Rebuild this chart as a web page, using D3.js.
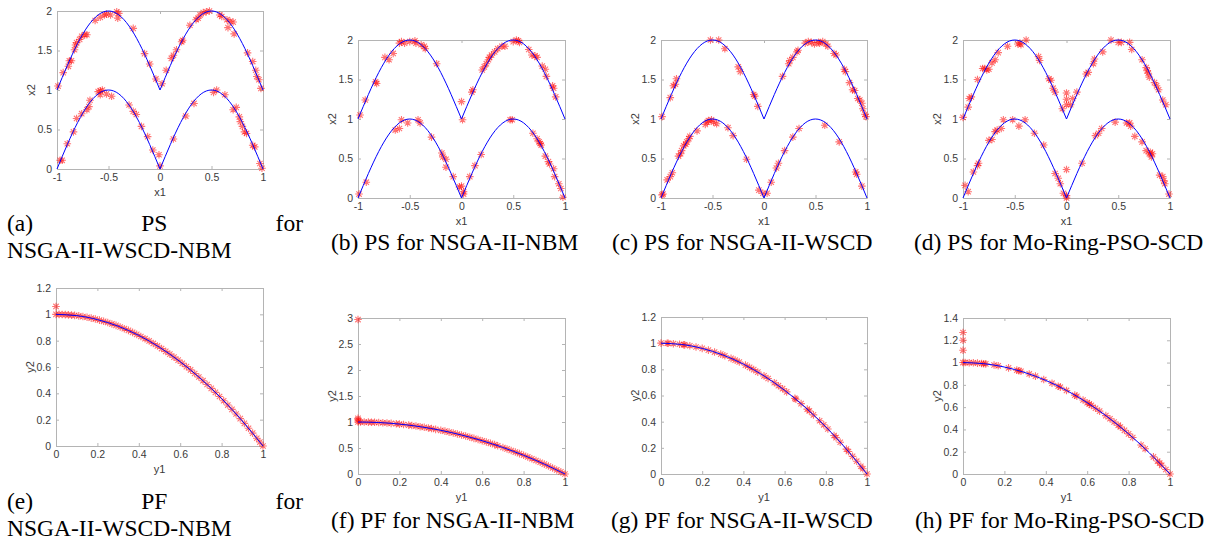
<!DOCTYPE html>
<html lang="en">
  <head>
    <meta charset="UTF-8" />
    <title>PS and PF plots</title>
    <style>
      body { margin: 0; background: #fff; }
    </style>
  </head>
  <body>
    <script src="https://d3js.org/d3.v7.min.js"></script>
    <script>
      // tick values
      const psTicksX = [-1, -0.5, 0, 0.5, 1]
      const psTicksY = [0, 0.5, 1, 1.5, 2]
      const pfTicksX = [0, 0.2, 0.4, 0.6, 0.8, 1]
      const pfTicksYe = [0, 0.2, 0.4, 0.6, 0.8, 1, 1.2]
      const pfTicksYf = [0, 0.5, 1, 1.5, 2, 2.5, 3]
      const pfTicksYg = [0, 0.2, 0.4, 0.6, 0.8, 1, 1.2]
      const pfTicksYh = [0, 0.2, 0.4, 0.6, 0.8, 1, 1.2, 1.4]

      // true PS, one hump (offset from where it starts)
      const humpDx = [0, 0.1, 0.2, 0.3, 0.4, 0.5, 0.6, 0.7, 0.8, 0.9, 1]
      const humpY = [0, 0.309, 0.588, 0.809, 0.951, 1, 0.951, 0.809, 0.588, 0.309, 0]
      const humpStarts = [-1, 0]
      const humpBases = [0, 1]

      // true PF
      const pfCurveX = [0, 0.1, 0.2, 0.3, 0.4, 0.5, 0.6, 0.7, 0.8, 0.9, 1]
      const pfCurveY = [1, 0.99, 0.96, 0.91, 0.84, 0.75, 0.64, 0.51, 0.36, 0.19, 0]

      // obtained PS points [x1, x2]
      const psA = [
        [-0.99, 1.05], [-0.94, 1.22], [-0.89, 1.3], [-0.88, 1.37], [-0.86, 1.37], [-0.83, 1.51],
        [-0.82, 1.57], [-0.81, 1.6], [-0.78, 1.64], [-0.76, 1.68], [-0.73, 1.7], [-0.71, 1.7],
        [-0.63, 1.88], [-0.58, 1.92], [-0.54, 1.95], [-0.52, 1.96], [-0.48, 1.95], [-0.42, 1.99],
        [-0.4, 1.97], [-0.41, 1.91], [-0.26, 1.78], [-0.15, 1.46], [-0.1, 1.33], [-0.04, 1.14],
        [0.02, 1.08], [0.06, 1.25], [0.11, 1.4], [0.13, 1.44], [0.16, 1.51], [0.21, 1.61],
        [0.22, 1.63], [0.29, 1.82], [0.35, 1.89], [0.37, 1.91], [0.39, 1.95], [0.42, 1.98],
        [0.45, 1.99], [0.48, 2.0], [0.58, 1.95], [0.6, 1.93], [0.65, 1.89], [0.68, 1.87],
        [0.71, 1.86], [0.66, 1.79], [0.72, 1.71], [0.85, 1.47], [0.9, 1.36], [0.93, 1.25],
        [0.94, 1.17], [0.96, 1.13], [0.98, 1.02],
        [-0.97, 0.11], [-0.95, 0.11], [-0.9, 0.32], [-0.84, 0.47], [-0.81, 0.64], [-0.76, 0.7],
        [-0.71, 0.75], [-0.69, 0.79], [-0.68, 0.87], [-0.6, 0.98], [-0.58, 0.99], [-0.56, 1.0],
        [-0.58, 0.94], [-0.52, 0.95], [-0.47, 0.92], [-0.3, 0.81], [-0.26, 0.73], [-0.23, 0.69],
        [-0.18, 0.54], [-0.12, 0.41], [-0.07, 0.24], [-0.01, 0.18], [0.0, 0.04], [0.13, 0.38],
        [0.25, 0.67], [0.33, 0.83], [0.52, 0.97], [0.55, 1.0], [0.63, 0.94], [0.71, 0.75],
        [0.74, 0.78], [0.77, 0.66], [0.78, 0.6], [0.8, 0.54], [0.82, 0.47], [0.84, 0.45],
        [0.9, 0.3], [0.92, 0.28], [0.97, 0.07], [0.99, 0.01]
      ]
      const psB = [
        [-0.98, 1.05], [-0.93, 1.24], [-0.83, 1.47], [-0.82, 1.45], [-0.74, 1.78], [-0.7, 1.75],
        [-0.66, 1.83], [-0.6, 1.96], [-0.58, 1.98], [-0.55, 1.96], [-0.5, 1.98], [-0.45, 1.99],
        [-0.44, 1.96], [-0.39, 1.94], [-0.36, 1.92], [-0.35, 1.89], [-0.24, 1.7], [0.0, 1.22],
        [0.01, 0.99], [0.1, 1.34], [0.11, 1.37], [0.2, 1.62], [0.22, 1.66], [0.24, 1.7],
        [0.26, 1.75], [0.27, 1.78], [0.29, 1.81], [0.32, 1.85], [0.35, 1.89], [0.39, 1.92],
        [0.42, 1.92], [0.5, 1.98], [0.53, 2.0], [0.55, 1.99], [0.56, 1.97], [0.65, 1.88],
        [0.68, 1.81], [0.71, 1.8], [0.73, 1.78], [0.78, 1.67], [0.81, 1.63], [0.82, 1.54],
        [0.88, 1.42], [0.89, 1.39], [0.91, 1.28],
        [-0.99, 0.05], [-0.92, 0.2], [-0.64, 0.86], [-0.6, 0.88], [-0.58, 0.99], [-0.52, 0.95],
        [-0.42, 0.99], [-0.4, 0.95], [-0.29, 0.77], [-0.19, 0.57], [-0.18, 0.52], [-0.15, 0.49],
        [-0.15, 0.39], [-0.08, 0.27], [-0.02, 0.14], [0.0, 0.15], [0.02, 0.08], [0.02, 0.05],
        [0.08, 0.27], [0.13, 0.41], [0.19, 0.55], [0.47, 0.99], [0.49, 0.99], [0.69, 0.82],
        [0.73, 0.75], [0.75, 0.71], [0.76, 0.69], [0.77, 0.67], [0.81, 0.53], [0.84, 0.46],
        [0.85, 0.43], [0.89, 0.37], [0.9, 0.27], [0.94, 0.18], [0.96, 0.12], [0.98, 0.01]
      ]
      const psC = [
        [-0.99, 1.03], [-0.91, 1.27], [-0.88, 1.42], [-0.86, 1.44], [-0.85, 1.51], [-0.52, 2.0],
        [-0.44, 2.0], [-0.38, 1.89], [-0.25, 1.66], [-0.23, 1.6], [-0.1, 1.31], [-0.09, 1.29],
        [-0.06, 1.16], [0.18, 1.54], [0.24, 1.7], [0.25, 1.74], [0.28, 1.78], [0.32, 1.85],
        [0.33, 1.87], [0.4, 1.96], [0.43, 1.98], [0.46, 1.97], [0.49, 1.95], [0.53, 1.97],
        [0.54, 1.96], [0.57, 1.98], [0.6, 1.95], [0.62, 1.92], [0.68, 1.83], [0.7, 1.81],
        [0.78, 1.63], [0.79, 1.6], [0.83, 1.46], [0.86, 1.37], [0.88, 1.36], [0.91, 1.26],
        [0.93, 1.24], [0.95, 1.2], [0.96, 1.13], [0.98, 1.06], [0.99, 1.03],
        [-0.99, 0.04], [-0.98, 0.05], [-0.94, 0.23], [-0.91, 0.27], [-0.89, 0.32], [-0.83, 0.53],
        [-0.81, 0.56], [-0.8, 0.6], [-0.78, 0.66], [-0.76, 0.68], [-0.75, 0.71], [-0.73, 0.75],
        [-0.72, 0.78], [-0.65, 0.85], [-0.57, 0.93], [-0.55, 0.96], [-0.54, 0.98], [-0.51, 0.99],
        [-0.49, 0.96], [-0.46, 0.94], [-0.35, 0.89], [-0.3, 0.79], [-0.17, 0.49], [-0.05, 0.1],
        [-0.01, 0.06], [0.03, 0.06], [0.07, 0.2], [0.12, 0.38], [0.14, 0.44], [0.2, 0.6],
        [0.28, 0.77], [0.34, 0.88], [0.59, 0.92], [0.73, 0.71], [0.89, 0.33], [0.9, 0.3],
        [0.95, 0.15]
      ]
      const psD = [
        [-1.0, 1.02], [-0.95, 1.15], [-0.94, 1.26], [-0.92, 1.28], [-0.86, 1.5], [-0.81, 1.64],
        [-0.79, 1.64], [-0.77, 1.62], [-0.75, 1.63], [-0.72, 1.71], [-0.69, 1.75], [-0.66, 1.84],
        [-0.57, 1.92], [-0.47, 1.95], [-0.45, 1.96], [-0.44, 1.94], [-0.39, 2.0], [-0.27, 1.79],
        [-0.26, 1.74], [-0.17, 1.51], [-0.15, 1.49], [-0.13, 1.39], [-0.11, 1.34], [-0.04, 1.13],
        [0.0, 1.33], [0.0, 1.25], [0.0, 1.18], [0.04, 1.18], [0.06, 1.26], [0.1, 1.34],
        [0.19, 1.57], [0.21, 1.59], [0.26, 1.7], [0.27, 1.76], [0.35, 1.85], [0.43, 2.0],
        [0.5, 1.97], [0.53, 1.97], [0.61, 1.97], [0.63, 1.88], [0.73, 1.75], [0.77, 1.65],
        [0.78, 1.61], [0.79, 1.58], [0.8, 1.53], [0.85, 1.46], [0.87, 1.42], [0.89, 1.37],
        [0.93, 1.24], [0.96, 1.18],
        [-0.98, 0.16], [-0.95, 0.08], [-0.9, 0.33], [-0.86, 0.41], [-0.85, 0.44], [-0.75, 0.73],
        [-0.72, 0.74], [-0.69, 0.84], [-0.67, 0.86], [-0.63, 0.88], [-0.61, 0.99], [-0.52, 0.99],
        [-0.46, 0.91], [-0.4, 0.99], [-0.31, 0.82], [-0.22, 0.67], [-0.11, 0.31], [-0.08, 0.25],
        [-0.06, 0.18], [-0.03, 0.06], [0.0, 0.03], [0.0, 0.0], [0.0, 0.36], [0.15, 0.44],
        [0.28, 0.79], [0.31, 0.82], [0.34, 0.88], [0.47, 0.96], [0.58, 0.95], [0.61, 0.95],
        [0.62, 0.91], [0.66, 0.78], [0.73, 0.71], [0.77, 0.6], [0.8, 0.56], [0.81, 0.58],
        [0.82, 0.52], [0.83, 0.56], [0.9, 0.29], [0.93, 0.27], [0.94, 0.22], [0.95, 0.18],
        [0.99, 0.05]
      ]

      // obtained PF points [y1, y2]
      const pfE = [
        [0, 1.06], [0, 1.0], [0.015, 1.0], [0.03, 0.999], [0.045, 0.998], [0.06, 0.996],
        [0.075, 0.994], [0.09, 0.992], [0.11, 0.988], [0.13, 0.983], [0.15, 0.978], [0.17, 0.971],
        [0.19, 0.964], [0.21, 0.956], [0.23, 0.947], [0.25, 0.938], [0.27, 0.927], [0.29, 0.916],
        [0.31, 0.904], [0.33, 0.891], [0.35, 0.878], [0.37, 0.863], [0.39, 0.848], [0.41, 0.832],
        [0.43, 0.815], [0.45, 0.798], [0.47, 0.779], [0.49, 0.76], [0.51, 0.74], [0.53, 0.719],
        [0.55, 0.698], [0.57, 0.675], [0.59, 0.652], [0.61, 0.628], [0.63, 0.603], [0.65, 0.578],
        [0.67, 0.551], [0.69, 0.524], [0.71, 0.496], [0.73, 0.467], [0.75, 0.438], [0.77, 0.407],
        [0.79, 0.376], [0.81, 0.344], [0.83, 0.311], [0.85, 0.278], [0.87, 0.243], [0.89, 0.208],
        [0.91, 0.172], [0.93, 0.135], [0.95, 0.098], [0.97, 0.059], [0.985, 0.03], [1.0, 0.0]
      ]
      const pfF = [
        [0, 2.97], [0, 1.07], [0, 1.04], [0, 1.0], [0.012, 1.0], [0.03, 0.999], [0.05, 0.998],
        [0.065, 0.996], [0.08, 0.994], [0.1, 0.99], [0.12, 0.986], [0.14, 0.98], [0.16, 0.974],
        [0.185, 0.966], [0.2, 0.96], [0.22, 0.952], [0.245, 0.94], [0.26, 0.932], [0.28, 0.922],
        [0.3, 0.91], [0.32, 0.898], [0.34, 0.884], [0.355, 0.874], [0.375, 0.859], [0.4, 0.84],
        [0.42, 0.824], [0.44, 0.806], [0.46, 0.788], [0.48, 0.77], [0.5, 0.75], [0.52, 0.73],
        [0.54, 0.708], [0.56, 0.686], [0.58, 0.664], [0.6, 0.64], [0.62, 0.616], [0.64, 0.59],
        [0.66, 0.564], [0.675, 0.544], [0.7, 0.51], [0.72, 0.482], [0.74, 0.452], [0.76, 0.422],
        [0.78, 0.392], [0.8, 0.36], [0.82, 0.328], [0.84, 0.294], [0.86, 0.26], [0.88, 0.226],
        [0.9, 0.19], [0.92, 0.154], [0.94, 0.116], [0.96, 0.078], [0.98, 0.04], [1.0, 0.0]
      ]
      const pfG = [
        [0, 1.0], [0.03, 0.999], [0.035, 0.999], [0.06, 0.996], [0.09, 0.992], [0.11, 0.988],
        [0.115, 0.987], [0.14, 0.98], [0.17, 0.971], [0.2, 0.96], [0.23, 0.947], [0.26, 0.932],
        [0.29, 0.916], [0.31, 0.904], [0.34, 0.884], [0.36, 0.87], [0.38, 0.856], [0.41, 0.832],
        [0.43, 0.815], [0.45, 0.798], [0.47, 0.779], [0.5, 0.75], [0.52, 0.73], [0.55, 0.698],
        [0.57, 0.675], [0.59, 0.652], [0.61, 0.628], [0.65, 0.578], [0.655, 0.571], [0.68, 0.538],
        [0.71, 0.496], [0.72, 0.482], [0.74, 0.452], [0.77, 0.407], [0.79, 0.376], [0.81, 0.344],
        [0.84, 0.294], [0.85, 0.278], [0.87, 0.243], [0.9, 0.19], [0.91, 0.172], [0.93, 0.135],
        [0.95, 0.098], [0.97, 0.059], [0.98, 0.04], [1.0, 0.0]
      ]
      const pfH = [
        [0, 1.27], [0, 1.2], [0, 1.11], [0, 1.0], [0.01, 1.0], [0.03, 0.999], [0.05, 0.998],
        [0.07, 0.995], [0.09, 0.992], [0.1, 0.99], [0.11, 0.988], [0.15, 0.978], [0.17, 0.971],
        [0.22, 0.952], [0.26, 0.932], [0.27, 0.927], [0.28, 0.922], [0.32, 0.898], [0.35, 0.878],
        [0.39, 0.848], [0.43, 0.815], [0.46, 0.788], [0.47, 0.779], [0.5, 0.75], [0.54, 0.708],
        [0.55, 0.698], [0.58, 0.664], [0.6, 0.64], [0.61, 0.628], [0.62, 0.616], [0.64, 0.59],
        [0.66, 0.564], [0.69, 0.524], [0.71, 0.496], [0.73, 0.467], [0.75, 0.438], [0.76, 0.422],
        [0.78, 0.392], [0.8, 0.36], [0.82, 0.328], [0.86, 0.26], [0.88, 0.226], [0.92, 0.154],
        [0.94, 0.116], [0.95, 0.098], [0.96, 0.078], [0.98, 0.04], [1.0, 0.0]
      ]

      const captions = [
        "(a) PS for NSGA-II-WSCD-NBM", "(b) PS for NSGA-II-NBM",
        "(c) PS for NSGA-II-WSCD", "(d) PS for Mo-Ring-PSO-SCD",
        "(e) PF for NSGA-II-WSCD-NBM", "(f) PF for NSGA-II-NBM",
        "(g) PF for NSGA-II-WSCD", "(h) PF for Mo-Ring-PSO-SCD"
      ]

      const width = 1214
      const height = 545
      const svg = d3.select("body").append("svg")
        .attr("width", width)
        .attr("height", height)

      const axisFont = "'Liberation Sans', Arial, sans-serif"
      const capFont = "'Liberation Serif', 'Times New Roman', serif"
      const boxColor = "#b4b4b4"
      const textColor = "#3a3a3a"
      const fmt = d => String(d)

      // box position of each subplot
      const panels = [
        { data: psA, ps: true, left: 57, right: 263, top: 11, bottom: 169, yMax: 2, yTicks: psTicksY },
        { data: psB, ps: true, left: 358, right: 565, top: 40, bottom: 198, yMax: 2, yTicks: psTicksY },
        { data: psC, ps: true, left: 661, right: 867, top: 40, bottom: 198, yMax: 2, yTicks: psTicksY },
        { data: psD, ps: true, left: 963, right: 1170, top: 40, bottom: 198, yMax: 2, yTicks: psTicksY },
        { data: pfE, ps: false, left: 56, right: 263, top: 288, bottom: 446, yMax: 1.2, yTicks: pfTicksYe },
        { data: pfF, ps: false, left: 358, right: 565, top: 318, bottom: 474, yMax: 3, yTicks: pfTicksYf },
        { data: pfG, ps: false, left: 661, right: 867, top: 317, bottom: 474, yMax: 1.2, yTicks: pfTicksYg },
        { data: pfH, ps: false, left: 963, right: 1170, top: 318, bottom: 474, yMax: 1.4, yTicks: pfTicksYh }
      ]

      // asterisk marker
      const r = 3.8
      const a = r * 0.707
      const star = `M${-r},0L${r},0M0,${-r}L0,${r}M${-a},${-a}L${a},${a}M${-a},${a}L${a},${-a}`

      function styleAxis(g) {
        g.select(".domain").attr("stroke", boxColor)
        g.selectAll(".tick line").attr("stroke", boxColor)
        g.selectAll(".tick text")
          .attr("fill", textColor)
          .attr("font-family", axisFont)
          .attr("font-size", 10.5)
      }

      panels.forEach(p => {
        const x = d3.scaleLinear()
          .domain(p.ps ? [-1, 1] : [0, 1])
          .range([p.left, p.right])
        const y = d3.scaleLinear()
          .domain([0, p.yMax])
          .range([p.bottom, p.top])
        const xTicks = p.ps ? psTicksX : pfTicksX
        const g = svg.append("g")

        g.append("g")
          .attr("transform", `translate(0,${p.bottom})`)
          .call(d3.axisBottom(x).tickValues(xTicks).tickFormat(fmt).tickSize(-3).tickSizeOuter(0).tickPadding(5))
          .call(styleAxis)
        g.append("g")
          .attr("transform", `translate(0,${p.top})`)
          .call(d3.axisTop(x).tickValues(xTicks).tickFormat("").tickSize(-3).tickSizeOuter(0))
          .call(styleAxis)
        g.append("g")
          .attr("transform", `translate(${p.left},0)`)
          .call(d3.axisLeft(y).tickValues(p.yTicks).tickFormat(fmt).tickSize(-3).tickSizeOuter(0).tickPadding(5))
          .call(styleAxis)
        g.append("g")
          .attr("transform", `translate(${p.right},0)`)
          .call(d3.axisRight(y).tickValues(p.yTicks).tickFormat("").tickSize(-3).tickSizeOuter(0))
          .call(styleAxis)

        // axis labels
        g.append("text")
          .attr("x", (p.left + p.right) / 2)
          .attr("y", p.bottom + 27)
          .attr("text-anchor", "middle")
          .attr("font-family", axisFont)
          .attr("font-size", 11)
          .attr("fill", textColor)
          .text(p.ps ? "x1" : "y1")
        g.append("text")
          .attr("transform", `translate(${p.left - 22},${(p.top + p.bottom) / 2}) rotate(-90)`)
          .attr("text-anchor", "middle")
          .attr("font-family", axisFont)
          .attr("font-size", 11)
          .attr("fill", textColor)
          .text(p.ps ? "x2" : "y2")

        // red asterisks
        g.selectAll("path.pt")
          .data(p.data)
          .enter()
          .append("path")
          .attr("class", "pt")
          .attr("d", star)
          .attr("transform", d => `translate(${x(d[0])},${y(d[1])})`)
          .attr("fill", "none")
          .attr("stroke", "#ff0000")
          .attr("stroke-opacity", 0.55)
          .attr("stroke-width", 1.1)

        // blue true curve
        const line = d3.line()
          .x(d => x(d[0]))
          .y(d => y(d[1]))
          .curve(d3.curveNatural)
        if (p.ps) {
          humpBases.forEach(base => {
            humpStarts.forEach(start => {
              const pts = humpDx.map((dx, i) => [start + dx, base + humpY[i]])
              g.append("path")
                .attr("d", line(pts))
                .attr("fill", "none")
                .attr("stroke", "#0000ff")
                .attr("stroke-width", 1)
            })
          })
        } else {
          const pts = pfCurveX.map((v, i) => [v, pfCurveY[i]])
          g.append("path")
            .attr("d", line(pts))
            .attr("fill", "none")
            .attr("stroke", "#0000ff")
            .attr("stroke-width", 1)
        }
      })

      // captions
      function caption(txt, xPos, yPos) {
        return svg.append("text")
          .attr("x", xPos)
          .attr("y", yPos)
          .attr("font-family", capFont)
          .attr("font-size", 23.5)
          .attr("fill", "#000")
          .text(txt)
      }

      // first column: justified first line, then the rest
      function justified(txt, yPos) {
        const words = txt.split(" ")
        const first = words.slice(0, 3)
        const nodes = first.map(w => caption(w, 0, yPos))
        const widths = nodes.map(n => n.node().getComputedTextLength())
        const x0 = 7
        const x1 = 303
        const gap = (x1 - x0 - d3.sum(widths)) / 2
        let cx = x0
        nodes.forEach((n, i) => {
          n.attr("x", cx)
          cx += widths[i] + gap
        })
        caption(words.slice(3).join(" "), x0, yPos + 26.5)
      }

      justified(captions[0], 231)
      justified(captions[4], 509)
      caption(captions[1], 331, 250)
      caption(captions[2], 612, 250)
      caption(captions[3], 914, 250)
      caption(captions[5], 331, 528)
      caption(captions[6], 611, 528)
      caption(captions[7], 915, 528)
    </script>
  </body>
</html>
